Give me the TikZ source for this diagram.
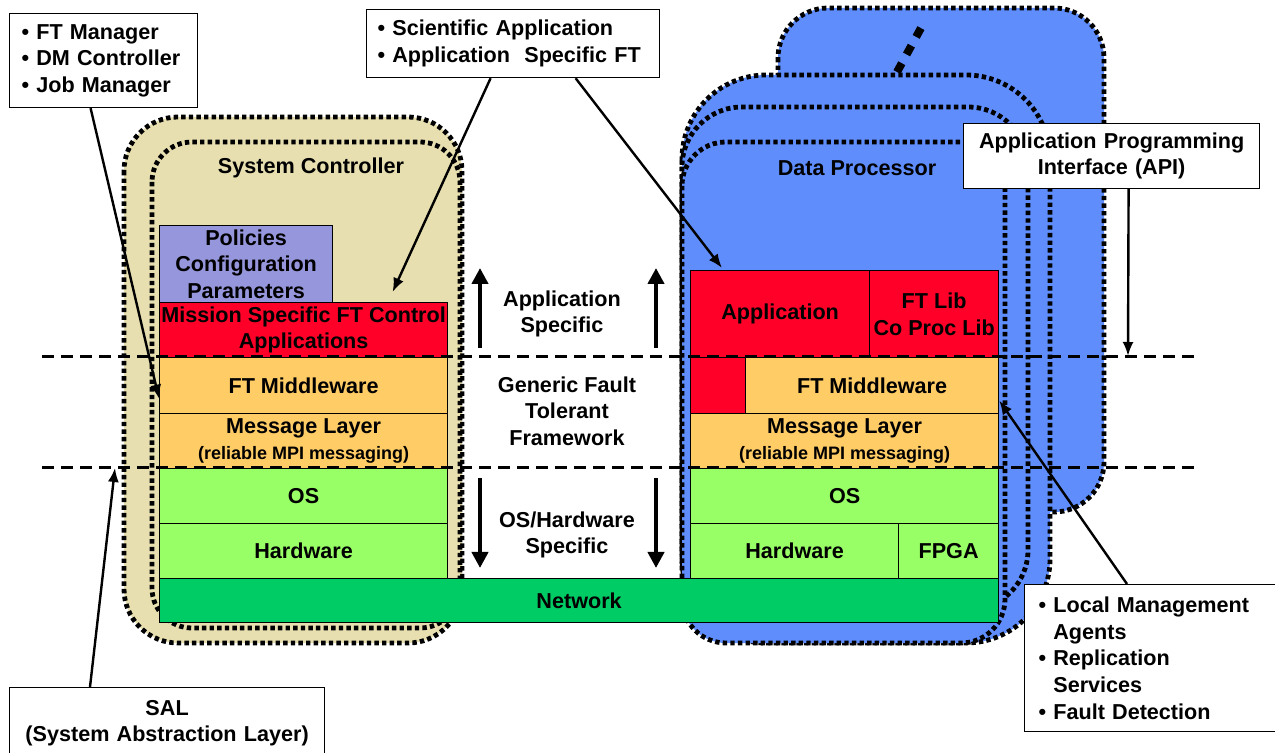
\documentclass[tikz,border=0pt]{standalone}
\usepackage{fontspec}
\setmainfont{Liberation Sans}
\usepackage{tikz}
\usetikzlibrary{arrows.meta}
\definecolor{scbeige}{RGB}{231,223,175}
\definecolor{dpblue}{RGB}{95,142,252}
\definecolor{polblue}{RGB}{150,150,220}
\definecolor{appred}{RGB}{255,0,40}
\definecolor{mworange}{RGB}{255,204,102}
\definecolor{oslime}{RGB}{153,255,102}
\definecolor{netgreen}{RGB}{0,204,102}

\begin{document}
\begin{tikzpicture}[x=0.5pt, y=-0.5pt, >={Latex[length=7pt,width=5.5pt]},
  every node/.style={font=\fontsize{10.8}{13.3}\selectfont\bfseries},
  layer/.style={draw, line width=0.6pt, inner sep=0pt, anchor=north west, align=center},
  dotbox/.style={draw, line width=2.4pt, dash pattern=on 2.2pt off 1.6pt},
  sep/.style={line width=1.5pt, dash pattern=on 6pt off 3.5pt},
  callout/.style={draw, fill=white, line width=0.6pt, anchor=north west},
  lead/.style={->, line width=1.2pt},
  bigarrow/.style={-{Triangle[length=8pt,width=8pt]}, line width=2pt}]
  \useasboundingbox (0,0) rectangle (1275,753);
  \clip (0,0) rectangle (1275,753);
  % System Controller (two nodes)
  \draw[dotbox, fill=scbeige, rounded corners=27pt] (124,117) rectangle (462,643);
  \draw[dotbox, fill=scbeige, rounded corners=20pt] (152,142) rectangle (460,628);
  % Data Processor stack, back to front
  \draw[dotbox, fill=dpblue, rounded corners=25pt] (778,8) rectangle (1104,512);
  \draw[line width=4pt, dash pattern=on 5pt off 5pt] (897,72) -- (921,28);
  \draw[dotbox, fill=dpblue, rounded corners=42pt] (682,75) rectangle (1050,643);
  \draw[dotbox, fill=dpblue, rounded corners=30pt] (682,107) rectangle (1028,610);
  \draw[dotbox, fill=dpblue, rounded corners=22pt] (682,142) rectangle (1005,643);
  \node (sctitle) at (311,168) {System Controller};
  \node (dptitle) at (857,168) {Data Processor};
  % Controller layers
  \node[layer, fill=polblue, minimum width=86.5pt, minimum height=38.5pt] (pol) at (159,225) {Policies\\Configuration\\Parameters};
  \node[layer, fill=appred, minimum width=144pt, minimum height=27.5pt] (msc) at (159,302) {Mission Specific FT Control\\Applications};
  \node[layer, fill=mworange, minimum width=144pt, minimum height=28pt] (ftmw) at (159,357) {FT Middleware};
  \node[layer, fill=mworange, minimum width=144pt, minimum height=27.5pt] (msg) at (159,413) {Message Layer\\{\fontsize{9}{10}\selectfont(reliable MPI messaging)}};
  \node[layer, fill=oslime, minimum width=144pt, minimum height=27.5pt] (os) at (159,468) {OS};
  \node[layer, fill=oslime, minimum width=144pt, minimum height=27.5pt] (hw) at (159,523) {Hardware};
  % Processor layers
  \node[layer, fill=appred, minimum width=89.5pt, minimum height=43.5pt] (app) at (690,270) {Application};
  \node[layer, fill=appred, minimum width=64.5pt, minimum height=43.5pt] (ftlib) at (869,270) {FT Lib\\Co Proc Lib};
  \node[layer, fill=appred, minimum width=27.5pt, minimum height=28pt] (appside) at (690,357) {};
  \node[layer, fill=mworange, minimum width=126.5pt, minimum height=28pt] (ftmwr) at (745,357) {FT Middleware};
  \node[layer, fill=mworange, minimum width=154pt, minimum height=27.5pt] (msgr) at (690,413) {Message Layer\\{\fontsize{9}{10}\selectfont(reliable MPI messaging)}};
  \node[layer, fill=oslime, minimum width=154pt, minimum height=27.5pt] (osr) at (690,468) {OS};
  \node[layer, fill=oslime, minimum width=104pt, minimum height=27.5pt] (hwr) at (690,523) {Hardware};
  \node[layer, fill=oslime, minimum width=50pt, minimum height=27.5pt] (fpga) at (898,523) {FPGA};
  \node[layer, fill=netgreen, minimum width=419.5pt, minimum height=22pt] (net) at (159,578) {Network};
  % Framework boundaries
  \coordinate (sepal) at (42,357);
  \coordinate (separ) at (1195,357);
  \coordinate (sepbl) at (42,468);
  \coordinate (sepbr) at (1195,468);
  \draw[sep] (sepal) -- (separ);
  \draw[sep] (sepbl) -- (sepbr);
  % Middle column
  \node[align=center] (appspec) at (562,314) {Application\\Specific};
  \node[align=center] (generic) at (567,411) {Generic Fault\\Tolerant\\Framework};
  \node[align=center] (osspec) at (567,535) {OS/Hardware\\Specific};
  \coordinate (upla) at (480,348);
  \coordinate (uplb) at (480,268);
  \coordinate (upra) at (656,348);
  \coordinate (uprb) at (656,268);
  \coordinate (dnla) at (480,478);
  \coordinate (dnlb) at (480,568);
  \coordinate (dnra) at (656,478);
  \coordinate (dnrb) at (656,568);
  \draw[bigarrow] (upla) -- (uplb);
  \draw[bigarrow] (upra) -- (uprb);
  \draw[bigarrow] (dnla) -- (dnlb);
  \draw[bigarrow] (dnra) -- (dnrb);
  % Callouts
  \node[callout, align=left, text width=82pt, inner xsep=6pt, minimum height=47pt] (ftm) at (9,13) {• FT Manager\\• DM Controller\\• Job Manager};
  \node[callout, align=left, text width=135.5pt, inner xsep=5.5pt, minimum height=34pt] (sci) at (366,9) {• Scientific Application\\• Application~ Specific FT};
  \node[callout, align=center, text width=140pt, inner xsep=4pt, minimum height=32.5pt] (api) at (963,123) {Application Programming\\Interface (API)};
  \node[callout, align=center, text width=149.5pt, inner xsep=4pt, minimum height=35.5pt] (sal) at (9,687) {SAL\\(System Abstraction Layer)};
  \node[callout, align=left, text width=119pt, inner xsep=7pt, minimum height=73.5pt] (lma) at (1024,584) {• Local Management\\\phantom{• }Agents\\• Replication\\\phantom{• }Services\\• Fault Detection};
  \coordinate (apitip) at (1128,356);
  \coordinate (saltip) at (115,468);
  \path[lead] ([xshift=-6.5pt]ftm.south) edge ([yshift=-6.5pt]ftmw.west);
  \path[lead] ([xshift=-11.25pt]sci.south) edge ([xshift=44.5pt,yshift=5pt]msc.north);
  \path[lead] ([xshift=31.25pt]sci.south) edge ([xshift=16pt,yshift=1pt]app.north west);
  \path[lead] ([xshift=8.5pt]api.south) edge (apitip);
  \path[lead] ([xshift=51.5pt]lma.north west) edge ([yshift=-7.5pt]ftmwr.east);
  \path[lead] ([xshift=40.5pt]sal.north west) edge (saltip);
\end{tikzpicture}
\end{document}
